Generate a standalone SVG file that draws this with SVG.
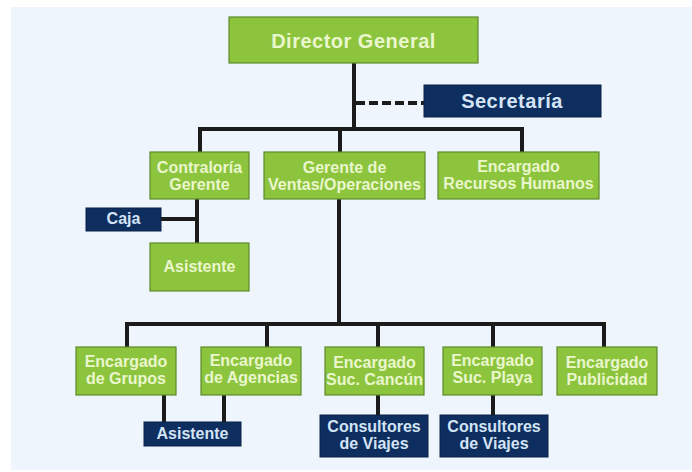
<svg xmlns="http://www.w3.org/2000/svg" width="692" height="472" viewBox="0 0 692 472">
  <style>
    .g { fill: #8cc43e; stroke: #5d8a2c; stroke-width: 1.2; }
    .n { fill: #0d2e5f; stroke: #0a2247; stroke-width: 1; }
    .tg { fill: #eaf6cc; font-family: "Liberation Sans", Arial, sans-serif; font-weight: bold; font-size: 16px; text-anchor: middle; }
    .tn { fill: #d4e4f5; font-family: "Liberation Sans", Arial, sans-serif; font-weight: bold; font-size: 16px; text-anchor: middle; }
    .big { font-size: 20px; letter-spacing: 0.5px; }
    .ln { fill: none; stroke: #1b1b1b; stroke-width: 4; stroke-linejoin: miter; stroke-linecap: square; }
    .dash { fill: none; stroke: #1b1b1b; stroke-width: 4; stroke-dasharray: 9 4; }
  </style>

  <!-- backdrop -->
  <rect x="0" y="0" width="692" height="472" fill="#ffffff"/>
  <rect x="11" y="7" width="681" height="463" fill="#eef5fc"/>

  <!-- connectors -->
  <g id="connectors">
    <path class="ln" d="M354 64 V129 M200 152 V129 H522 V152 M340 129 V152"/>
    <path class="dash" d="M356 103 H424"/>
    <path class="ln" d="M197 199 V243 M161 219 H197"/>
    <path class="ln" d="M339 199 V324 M127 347 V324 H604 V347 M267 324 V347 M378 324 V347 M493 324 V347"/>
    <path class="ln" d="M164 395 V422 M224 395 V422"/>
    <path class="ln" d="M378 395 V415 M493 395 V415"/>
  </g>

  <g id="director-general">
    <rect class="g" x="229" y="17" width="249" height="46"/>
    <text class="tg big" x="353.5" y="48">Director General</text>
  </g>

  <g id="secretaria">
    <rect class="n" x="424" y="85" width="177" height="32"/>
    <text class="tn big" x="512" y="108">Secretaría</text>
  </g>

  <g id="contraloria">
    <rect class="g" x="150" y="152" width="99" height="47"/>
    <text class="tg" x="199.5" y="172.5">Contraloría</text>
    <text class="tg" x="199.5" y="189.5">Gerente</text>
  </g>

  <g id="gerente-ventas">
    <rect class="g" x="264" y="152" width="161" height="47"/>
    <text class="tg" x="344.5" y="172.5">Gerente de</text>
    <text class="tg" x="344.5" y="189.5">Ventas/Operaciones</text>
  </g>

  <g id="recursos-humanos">
    <rect class="g" x="438" y="152" width="161" height="47"/>
    <text class="tg" x="518.5" y="172">Encargado</text>
    <text class="tg" x="518.5" y="189">Recursos Humanos</text>
  </g>

  <g id="caja">
    <rect class="n" x="86" y="208" width="75" height="23"/>
    <text class="tn" x="123.5" y="224">Caja</text>
  </g>

  <g id="asistente-contraloria">
    <rect class="g" x="150" y="243" width="99" height="48"/>
    <text class="tg" x="199.5" y="272">Asistente</text>
  </g>

  <g id="encargado-grupos">
    <rect class="g" x="76" y="347" width="100" height="48"/>
    <text class="tg" x="126" y="367">Encargado</text>
    <text class="tg" x="126" y="384">de Grupos</text>
  </g>

  <g id="encargado-agencias">
    <rect class="g" x="201" y="347" width="100" height="48"/>
    <text class="tg" x="251" y="366">Encargado</text>
    <text class="tg" x="251" y="383">de Agencias</text>
  </g>

  <g id="encargado-cancun">
    <rect class="g" x="325" y="347" width="99" height="48"/>
    <text class="tg" x="374.5" y="367.5">Encargado</text>
    <text class="tg" x="374.5" y="384.5">Suc. Cancún</text>
  </g>

  <g id="encargado-playa">
    <rect class="g" x="443" y="347" width="99" height="48"/>
    <text class="tg" x="492.5" y="365.5">Encargado</text>
    <text class="tg" x="492.5" y="382.5">Suc. Playa</text>
  </g>

  <g id="encargado-publicidad">
    <rect class="g" x="557" y="347" width="100" height="48"/>
    <text class="tg" x="607" y="368">Encargado</text>
    <text class="tg" x="607" y="385">Publicidad</text>
  </g>

  <g id="asistente-ventas">
    <rect class="n" x="144" y="422" width="97" height="24"/>
    <text class="tn" x="192.5" y="439">Asistente</text>
  </g>

  <g id="consultores-cancun">
    <rect class="n" x="320" y="415" width="108" height="42"/>
    <text class="tn" x="374" y="431.5">Consultores</text>
    <text class="tn" x="374" y="448.5">de Viajes</text>
  </g>

  <g id="consultores-playa">
    <rect class="n" x="440" y="415" width="108" height="42"/>
    <text class="tn" x="494" y="431.5">Consultores</text>
    <text class="tn" x="494" y="448.5">de Viajes</text>
  </g>
</svg>
